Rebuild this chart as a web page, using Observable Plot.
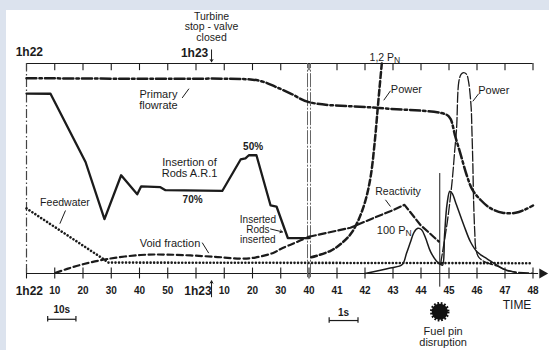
<!DOCTYPE html>
<html><head><meta charset="utf-8">
<script src="https://cdn.jsdelivr.net/npm/d3@7"></script>
<script src="https://cdn.jsdelivr.net/npm/@observablehq/plot@0.6"></script>
<style>
html,body{margin:0;padding:0;background:#dce3ee;width:549px;height:350px;overflow:hidden}
#chart{position:absolute;left:6px;top:10px;width:543px;height:340px;background:#fff}
</style></head><body><div id="chart"></div>
<script>
// time t = seconds after 1h22:00 ; 1h23:40 = 100 s, after that the axis is stretched x10 (40..48 s)
const tickTimes  = [0,10,20,30,40,50,60,70,80,90,100,101,102,103,104,105,106,107,108];
const tickLabels = ["1h22","10","20","30","40","50","1h23","10","20","30","40","41","42","43","44","45","46","47","48"];
const tDisruption = 104.67;
const tTurbine = 65.5;

// level v: 0 = bottom axis, 100 = top axis
const flowT = [0, 40, 80, 84, 88, 93.5, 100, 102.4, 104.9, 105.05, 105.23, 105.41, 105.63, 105.84, 106.13, 106.48, 106.91, 107.38, 107.73, 108];
const flowV = [93.0, 92.7, 92.3, 91.2, 89.0, 85.7, 81.6, 78.9, 75.7, 73.7, 65.0, 57.0, 46.9, 39.8, 35.0, 31.1, 28.9, 28.9, 30.5, 32.4];

const rodsT = [0, 8.5, 20.9, 27.6, 33.5, 39.2, 40.6, 47.4, 49.2, 69.3, 75.8, 77.5, 78.7, 81.4, 86.4, 88.5, 92.5, 100];
const rodsV = [85.7, 85.6, 53.1, 25.9, 46.8, 37.7, 41.5, 41.1, 39.7, 39.3, 54.3, 54.8, 56.3, 56.3, 32.4, 31.9, 16.9, 16.8];

const feedT = [0, 27, 29, 108];
const feedV = [31.0, 7.1, 5.2, 4.9];

const voidT = [10.3, 14.4, 20.3, 28.6, 40.4, 49.8, 66.2, 75.8, 81, 87.5, 90, 95, 100];
const voidV = [0.3, 2.2, 4.5, 6.9, 8.8, 9.0, 8.0, 7.1, 7.6, 9.9, 11.7, 14.6, 17.5];

const reactT = [100, 101.48, 102.30, 103.02, 103.41, 103.98, 104.64];
const reactV = [17.5, 21.8, 26.4, 30.3, 32.7, 23.1, 15.2];

const powerT = [100.08, 100.77, 101.19, 101.5, 101.75, 102.0, 102.2, 102.35, 102.45, 102.53, 102.6];
const powerV = [7.7, 10.8, 14.7, 19.0, 25.0, 34.0, 46.0, 63.0, 78.0, 90.0, 100.0];

const p100T = [102.0, 102.9, 103.33, 103.48, 103.63, 103.75, 103.89, 104.02, 104.16, 104.34, 104.55, 104.7, 104.77, 104.84, 104.93, 105.03, 105.12, 105.23, 105.53, 105.77, 106.01, 106.36, 106.96, 107.4];
const p100V = [0, 2.6, 4.3, 9.5, 15.2, 19.6, 21.5, 20.8, 17.0, 10.4, 6.0, 4.3, 4.0, 18, 33, 39.2, 38, 34.1, 23.0, 15.0, 10.2, 7.0, 2.1, 0.5];

const spikeT = [104.70, 104.94, 105.11, 105.20, 105.27, 105.35, 105.43, 105.52, 105.63, 105.70, 105.79, 105.82, 105.85, 105.88, 105.92, 105.96, 106.06, 106.30, 106.73, 107.09, 107.98];
const spikeV = [4.6, 24.6, 43.7, 57.9, 69.0, 91.2, 94.8, 95.7, 94.8, 91.2, 79.3, 67.4, 53.1, 34.0, 19.8, 11.7, 7.8, 5.4, 3.5, 1.3, 0.2];

// annotations (data coordinates)
const labels = [
  {t: 65.5, v: 117.5, text: "Turbine\nstop - valve\nclosed", size: 10.5},
  {t: 46.7, v: 82.4, text: "Primary\nflowrate", size: 11},
  {t: 57.7, v: 50.2, text: "Insertion of\nRods A.R.1", size: 11},
  {t: 13.6, v: 33.7, text: "Feedwater", size: 10.5},
  {t: 50.8, v: 14.2, text: "Void fraction", size: 11},
  {t: 81.9, v: 20.9, text: "Inserted\nRods\ninserted", size: 10},
  {t: 103.48, v: 87.5, text: "Power", size: 11},
  {t: 106.6, v: 87.1, text: "Power", size: 11},
  {t: 103.18, v: 39.0, text: "Reactivity", size: 10.5},
  {t: 107.43, v: -15.3, text: "TIME", size: 12},
  {t: 104.79, v: -30.4, text: "Fuel pin\ndisruption", size: 11}
];
const pnLabels = [
  {t: 103.04, v: 102.6, vs: 101.4, text: "1,2 P", sub: "N", size: 10.5},
  {t: 103.45, v: 20.7, vs: 19.3, text: "100 P", sub: "N", size: 11}
];
const boldLabels = [
  {t: 80.2, v: 60.2, text: "50%"},
  {t: 58.8, v: 35.1, text: "70%"}
];
const hourLabels = [
  {t: 1.0, v: 105.3, text: "1h22"},
  {t: 59.5, v: 105.0, text: "1h23"}
];
const leaders = [
  {t1: 55.1, v1: 83.6, t2: 57.5, v2: 88.0},
  {t1: 13.8, v1: 30.0, t2: 11.8, v2: 23.7},
  {t1: 62.2, v1: 14.7, t2: 64.5, v2: 9.7},
  {t1: 102.91, v1: 87.0, t2: 102.67, v2: 82.5},
  {t1: 106.06, v1: 85.6, t2: 105.85, v2: 82.0},
  {t1: 102.73, v1: 35.1, t2: 102.91, v2: 31.9}
];
const arrows = [
  {t1: tTurbine, v1: 106.5, t2: tTurbine, v2: 100.8},
  {t1: tTurbine, v1: -11.1, t2: tTurbine, v2: -3.5},
  {t1: 86.4, v1: 21.2, t2: 90.6, v2: 19.8}
];
const scaleBars = [
  {t1: 7.5, t2: 17.5, v: -21.8, vl: -17.3, label: "10s"},
  {t1: 100.72, t2: 101.75, v: -22.4, vl: -18.6, label: "1s"}
];

const series = (T, V) => T.map((t, i) => ({t, v: V[i]}));
const ink = "#1b1b1b";
const sans = "'Liberation Sans', Arial, Helvetica, sans-serif";
const tickData = tickTimes.map((t, i) => ({t, label: tickLabels[i]}));
const ends = scaleBars.flatMap(b => [{t: b.t1, v: b.v}, {t: b.t2, v: b.v}]);

const chart = Plot.plot({
  width: 543, height: 340,
  style: {background: "transparent", overflow: "visible", fontFamily: sans, color: ink},
  x: {type: "linear", domain: [0, 100, 108], range: [20, 302.5, 526.5], axis: null},
  y: {type: "linear", domain: [0, 100], range: [263, 53], axis: null},
  marks: [
    // frame lines
    Plot.ruleY([100], {x1: 0, x2: 108, stroke: ink, strokeWidth: 1.2}),
    Plot.ruleX(tickTimes, {y1: 100, y2: 96.6, stroke: ink, strokeWidth: 1.1}),
    Plot.ruleY([0], {x1: 0, x2: 108.2, stroke: ink, strokeWidth: 1.2}),
    Plot.ruleX(tickTimes, {y1: 2.6, y2: -2.6, stroke: ink, strokeWidth: 1.1}),
    Plot.dot([{t: 108.33, v: 0}], {x: "t", y: "v", symbol: "triangle", r: 3.8, rotate: 90, fill: ink, stroke: "none"}),
    Plot.ruleX([0], {y1: 0, y2: 100, stroke: "#444", strokeWidth: 1.2, strokeDasharray: "9,2.5,1.5,2.5"}),
    Plot.ruleX([100], {y1: -2, y2: 100, dx: -1.5, stroke: "#666", strokeWidth: 1, strokeDasharray: "14,1.5,2,1.5"}),
    Plot.ruleX([100], {y1: -2, y2: 100, dx: 1.5, stroke: "#666", strokeWidth: 1, strokeDasharray: "14,1.5,2,1.5"}),
    Plot.ruleX([tDisruption], {y1: -6.5, y2: 47.6, stroke: ink, strokeWidth: 1}),
    // series
    Plot.line(series(feedT, feedV), {x: "t", y: "v", stroke: ink, strokeWidth: 2.6, strokeDasharray: "0.01,3.5", strokeLinecap: "round"}),
    Plot.line(series(voidT, voidV), {x: "t", y: "v", curve: "catmull-rom", stroke: ink, strokeWidth: 2.2, strokeDasharray: "6,3.5"}),
    Plot.line(series(reactT, reactV), {x: "t", y: "v", stroke: ink, strokeWidth: 2.2, strokeDasharray: "7,3"}),
    Plot.line(series(rodsT, rodsV), {x: "t", y: "v", stroke: ink, strokeWidth: 2.3, strokeLinejoin: "round"}),
    Plot.line(series(flowT, flowV), {x: "t", y: "v", curve: "catmull-rom", stroke: ink, strokeWidth: 2.5, strokeDasharray: "10,3,2.5,3"}),
    Plot.line(series(powerT, powerV), {x: "t", y: "v", curve: "catmull-rom", stroke: ink, strokeWidth: 2.5, strokeDasharray: "6,3"}),
    Plot.line(series(p100T, p100V), {x: "t", y: "v", curve: "catmull-rom", stroke: ink, strokeWidth: 1.5}),
    Plot.line(series(spikeT, spikeV), {x: "t", y: "v", curve: "catmull-rom", stroke: ink, strokeWidth: 1.3, strokeDasharray: "10,2.5"}),
    // annotations
    Plot.link(leaders, {x1: "t1", y1: "v1", x2: "t2", y2: "v2", stroke: ink, strokeWidth: 1}),
    Plot.arrow(arrows, {x1: "t1", y1: "v1", x2: "t2", y2: "v2", stroke: ink, strokeWidth: 1, headLength: 4}),
    Plot.link(scaleBars, {x1: "t1", x2: "t2", y1: "v", y2: "v", stroke: ink, strokeWidth: 1.2}),
    Plot.ruleX(ends, {x: "t", y1: d => d.v + 1.3, y2: d => d.v - 1.3, stroke: ink, strokeWidth: 1.2}),
    Plot.dot([{t: tDisruption, v: -18.2}], {x: "t", y: "v", r: 8, fill: "#111", stroke: "#111", strokeWidth: 3.5, strokeDasharray: "1.6,1.6"}),
    Plot.text(labels, {x: "t", y: "v", text: "text", fontSize: d => d.size, fill: ink, fontFamily: sans, lineHeight: 1.0}),
    Plot.text(pnLabels, {x: "t", y: "v", text: "text", fontSize: d => d.size, textAnchor: "end", fill: ink, fontFamily: sans}),
    Plot.text(pnLabels, {x: "t", y: "vs", text: "sub", fontSize: 8.5, textAnchor: "start", fill: ink, fontFamily: sans}),
    Plot.text(boldLabels, {x: "t", y: "v", text: "text", fontSize: 10, fontWeight: "bold", fill: ink, fontFamily: sans}),
    Plot.text(scaleBars, {x: d => (d.t1 + d.t2) / 2, y: "vl", text: "label", fontSize: 10, fontWeight: "bold", fill: ink, fontFamily: sans}),
    Plot.text(hourLabels, {x: "t", y: "v", text: "text", fontSize: 12, fontWeight: "bold", fill: ink, fontFamily: sans}),
    Plot.text(tickData.filter(d => !d.label.startsWith("1h")), {x: "t", y: -8.4, text: "label", fontSize: 10, fontWeight: "bold", fill: ink, fontFamily: sans}),
    Plot.text(tickData.filter(d => d.label.startsWith("1h")), {x: d => d.t + (d.t === 0 ? 1 : 0.7), y: -8.6, text: "label", fontSize: 12, fontWeight: "bold", fill: ink, fontFamily: sans})
  ]
});
document.getElementById("chart").appendChild(chart);
</script></body></html>
